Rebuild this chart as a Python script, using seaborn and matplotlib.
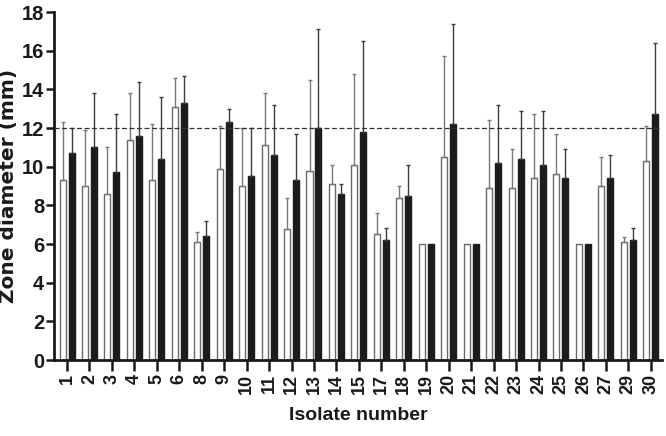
import matplotlib
matplotlib.use("Agg")
import matplotlib.pyplot as plt
import seaborn as sns
import numpy as np
import pandas as pd

isolates = ['1', '2', '3', '4', '5', '6', '8', '9', '10', '11', '12', '13', '14', '15',
            '17', '18', '19', '20', '21', '22', '23', '24', '25', '26', '27', '29', '30']
white_mean = [9.3, 9.0, 8.6, 11.4, 9.3, 13.1, 6.1, 9.9, 9.0, 11.1, 6.8, 9.8, 9.1, 10.1,
              6.5, 8.4, 6.0, 10.5, 6.0, 8.9, 8.9, 9.4, 9.6, 6.0, 9.0, 6.1, 10.3]
white_sd = [3.0, 2.9, 2.4, 2.4, 2.9, 1.5, 0.5, 2.2, 3.0, 2.7, 1.6, 4.7, 1.0, 4.7,
            1.1, 0.6, 0.0, 5.2, 0.0, 3.5, 2.0, 3.3, 2.1, 0.0, 1.5, 0.25, 1.8]
black_mean = [10.7, 11.0, 9.7, 11.6, 10.4, 13.3, 6.4, 12.3, 9.5, 10.6, 9.3, 12.0, 8.6, 11.8,
              6.2, 8.5, 6.0, 12.2, 6.0, 10.2, 10.4, 10.1, 9.4, 6.0, 9.4, 6.2, 12.7]
black_sd = [1.3, 2.8, 3.0, 2.8, 3.2, 1.4, 0.8, 0.7, 2.5, 2.6, 2.4, 5.1, 0.5, 4.7,
            0.65, 1.6, 0.0, 5.2, 0.0, 3.0, 2.5, 2.8, 1.5, 0.0, 1.2, 0.65, 3.7]
groups = ['white', 'black']
threshold = 12

sns.set_style("ticks")
plt.rcParams['font.family'] = ['Liberation Sans', 'DejaVu Sans']

df = pd.DataFrame({
    'isolate': isolates * 2,
    'diameter': white_mean + black_mean,
    'group': [groups[0]] * len(isolates) + [groups[1]] * len(isolates),
})

fig = plt.figure(figsize=(6.66, 4.36), dpi=100)
ax = fig.add_axes([54 / 666, 76 / 436, (662 - 54) / 666, (360 - 12) / 436])

sns.barplot(data=df, x='isolate', y='diameter', hue='group', order=isolates,
            hue_order=groups, palette={'white': 'white', 'black': '#1c1c1c'},
            width=0.8, gap=0.33, errorbar=None, legend=False, ax=ax,
            linewidth=1.0, saturation=1)

edge_cols = ['#6a6a6a', '#1c1c1c']
err_cols = ['#7a7a7a', '#3c3c3c']
sds = [white_sd, black_sd]
for cont, ec, errc, sd in zip(ax.containers, edge_cols, err_cols, sds):
    xs, ys, es = [], [], []
    for bar, s in zip(cont, sd):
        bar.set_edgecolor(ec)
        if s > 0:
            xs.append(bar.get_x() + bar.get_width() / 2)
            ys.append(bar.get_height())
            es.append(s)
    es = np.array(es)
    ax.errorbar(xs, ys, yerr=[np.zeros_like(es), es], fmt='none', ecolor=errc,
                elinewidth=1.0, capsize=1.6, capthick=1.0, zorder=1)

ax.axhline(threshold, color='#333333', lw=0.9, dashes=(4, 2), zorder=3)

ax.set_xlim(-0.58, 26.5)
ax.set_ylim(0, 18)
ax.set_yticks(np.arange(0, 19, 2))
for s in ['top', 'right']:
    ax.spines[s].set_visible(False)
for s in ['left', 'bottom']:
    ax.spines[s].set_linewidth(2.0)
    ax.spines[s].set_color('#1a1a1a')

ax.tick_params(axis='y', length=6, width=1.8, color='#1a1a1a', pad=1,
               labelsize=14.5, labelcolor='#1a1a1a')
ax.tick_params(axis='x', length=8, width=1.8, color='#1a1a1a', pad=2,
               labelsize=13, labelcolor='#1a1a1a', labelrotation=90)
for lab in ax.get_xticklabels() + ax.get_yticklabels():
    lab.set_fontweight('bold')

ax.set_ylabel('Zone diameter (mm)', fontsize=14.5, fontweight='bold',
              family=['DejaVu Sans'], color='#1a1a1a', labelpad=3)
ax.set_xlabel('Isolate number', fontsize=14, fontweight='bold',
              color='#1a1a1a', labelpad=9)

fig.savefig('out.png', dpi=100, facecolor='white')
